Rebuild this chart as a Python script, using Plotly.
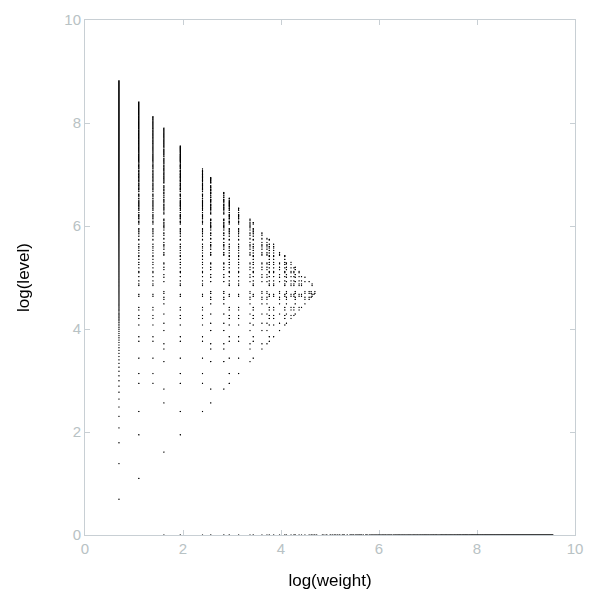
import math
import plotly.graph_objects as go

# weights (columns) seen in the picture, and the N*k bound read from column tops
weights = [2, 3, 4, 5, 7, 11, 13, 17, 19, 23, 29, 31, 37, 41, 43, 47, 53, 59, 61, 67,
           71, 73, 79, 83, 89, 97, 101, 103, 107, 109]
level_weight_bound = 13500
level1_max_weight = 14000

LIM = 14000
sieve = bytearray([1]) * (LIM + 1)
sieve[0] = sieve[1] = 0
for i in range(2, int(LIM ** 0.5) + 1):
    if sieve[i]:
        sieve[i * i::i] = bytearray(len(sieve[i * i::i]))

def allowed(k, n):
    if k == 2:
        return n % 2 == 0
    if k == 4:
        return sieve[n] and n % 4 == 3 and n >= 19
    return sieve[n] and n % 4 == k % 4

xs, ys = [], []
for k in weights:
    for n in range(k, level_weight_bound // k + 1):
        if allowed(k, n):
            xs.append(math.log(k)); ys.append(math.log(n))
for k in range(5, level1_max_weight + 1):
    if sieve[k]:
        xs.append(math.log(k)); ys.append(0.0)

fig = go.Figure(go.Scattergl(x=xs, y=ys, mode="markers",
                             marker=dict(color="black", size=1.6), hoverinfo="skip"))
ax = dict(range=[0, 10], dtick=2, showgrid=False, zeroline=False, showline=True,
          linecolor="#c8cfd4", mirror="ticks", ticks="inside", tickcolor="#c8cfd4",
          ticklen=5, tickfont=dict(color="#b8c2c4", size=15), automargin=False)
fig.update_layout(width=600, height=600, plot_bgcolor="white", paper_bgcolor="white",
                  font=dict(family="Liberation Sans, Arial", size=14, color="black"),
                  margin=dict(l=77, r=33, t=12, b=73), showlegend=False,
                  xaxis=dict(ax, title=dict(text="log(weight)", standoff=18)),
                  yaxis=dict(ax, title=dict(text="log(level)", standoff=30)))
fig.write_html("out.html")
